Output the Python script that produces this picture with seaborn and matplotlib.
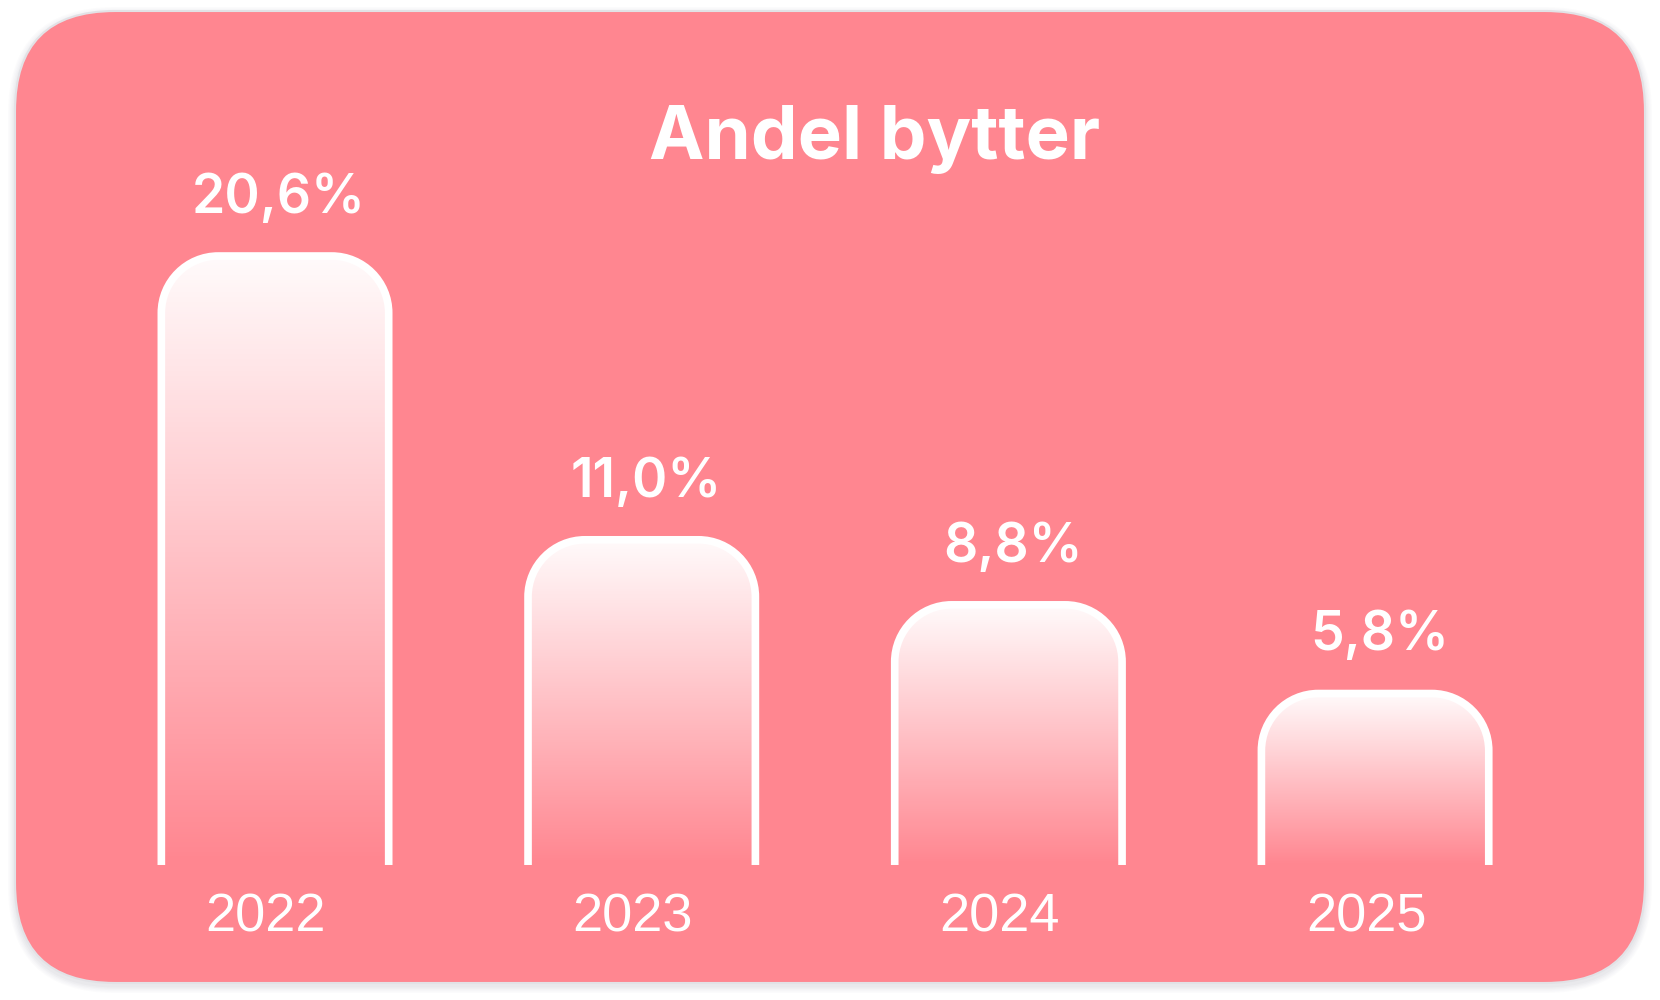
import numpy as np
import matplotlib
matplotlib.use("Agg")
import matplotlib.pyplot as plt
import seaborn as sns
from matplotlib.patches import FancyBboxPatch, PathPatch
from matplotlib.path import Path

# chart data
years = ["2022", "2023", "2024", "2025"]
values = [20.6, 11.0, 8.8, 5.8]
value_labels = ["20,6%", "11,0%", "8,8%", "5,8%"]
title = "Andel bytter"

card_color = "#FF8690"

sns.set_style("white")
plt.rcParams['font.family'] = ['Inter', 'DejaVu Sans']

fig = plt.figure(figsize=(16.6, 10), dpi=100)
fig.patch.set_facecolor("white")

# background card in pixel coords
bg = fig.add_axes([0, 0, 1, 1])
bg.set_xlim(0, 1660)
bg.set_ylim(1000, 0)
bg.axis("off")

# soft shadow
for i, a in enumerate([0.03, 0.03, 0.04, 0.05, 0.06]):
    grow = 7 - i * 1.4
    bg.add_patch(FancyBboxPatch(
        (15 - grow, 11 - grow + 3), 1630 + 2 * grow, 972 + 2 * grow,
        boxstyle="round,pad=0,rounding_size=%d" % (100 + grow),
        facecolor="#9a9aa8", edgecolor="none", alpha=a, zorder=0
    ))

bg.add_patch(FancyBboxPatch(
    (15, 11), 1630, 972,
    boxstyle="round,pad=0,rounding_size=100",
    facecolor=card_color, edgecolor="#e2e2e6", linewidth=1.5, zorder=1
))

bg.text(875, 159, title, color="white", fontsize=53.5, fontweight="bold",
        ha="center", va="baseline", zorder=3)

# main chart axes
ax = fig.add_axes([0, 0, 1, 1])
ax.patch.set_alpha(0)

sns.barplot(x=years, y=values, ax=ax, width=0.62,
            color=card_color, saturation=1)

ax.set_xlim(-0.75, 3.777)
ax.set_ylim(-4.567, 29.26)
ax.axis("off")

# pixel -> data scale for round corners
px_x = ax.transData.transform((1, 0))[0] - ax.transData.transform((0, 0))[0]
px_y = ax.transData.transform((0, 1))[1] - ax.transData.transform((0, 0))[1]
r_px = 57
rx = r_px / px_x
ry = r_px / px_y
k = 0.5523

grad = np.zeros((256, 1, 4))
grad[:, :, :3] = 1.0
grad[:, 0, 3] = np.linspace(0.97, 0.0, 256)

for i, bar in enumerate(ax.patches):
    x0 = bar.get_x()
    x1 = x0 + bar.get_width()
    h = bar.get_height()
    bar.set_visible(False)

    verts = [
        (x0, 0), (x0, h - ry),
        (x0, h - ry + k * ry), (x0 + rx - k * rx, h), (x0 + rx, h),
        (x1 - rx, h),
        (x1 - rx + k * rx, h), (x1, h - ry + k * ry), (x1, h - ry),
        (x1, 0),
    ]
    codes = [Path.MOVETO, Path.LINETO,
             Path.CURVE4, Path.CURVE4, Path.CURVE4,
             Path.LINETO,
             Path.CURVE4, Path.CURVE4, Path.CURVE4,
             Path.LINETO]

    # closed shape used for clipping the gradient
    clip = PathPatch(Path(verts + [(x0, 0)], codes + [Path.CLOSEPOLY]),
                     facecolor="none", edgecolor="none", transform=ax.transData)
    ax.add_patch(clip)
    im = ax.imshow(grad, extent=(x0, x1, 0, h), aspect="auto",
                   origin="upper", zorder=2, interpolation="bicubic")
    im.set_clip_path(clip)

    outline = PathPatch(Path(verts, codes), facecolor="none",
                        edgecolor="white", linewidth=5.5, capstyle="butt",
                        joinstyle="round", zorder=3)
    ax.add_patch(outline)

    cx = x0 + (x1 - x0) / 2
    ax.annotate(value_labels[i], xy=(cx, h), xytext=(3, 31),
                textcoords="offset points", ha="center", va="baseline",
                color="white", fontsize=38.5, fontweight="semibold", zorder=4)
    ax.annotate(years[i], xy=(cx, 0), xytext=(-6.5, -48),
                textcoords="offset points", ha="center", va="baseline",
                color="white", fontsize=39, family=["Liberation Sans"], zorder=4)

ax.set_xlim(-0.75, 3.777)
ax.set_ylim(-4.567, 29.26)

plt.savefig("out.png", dpi=100, facecolor="white")
